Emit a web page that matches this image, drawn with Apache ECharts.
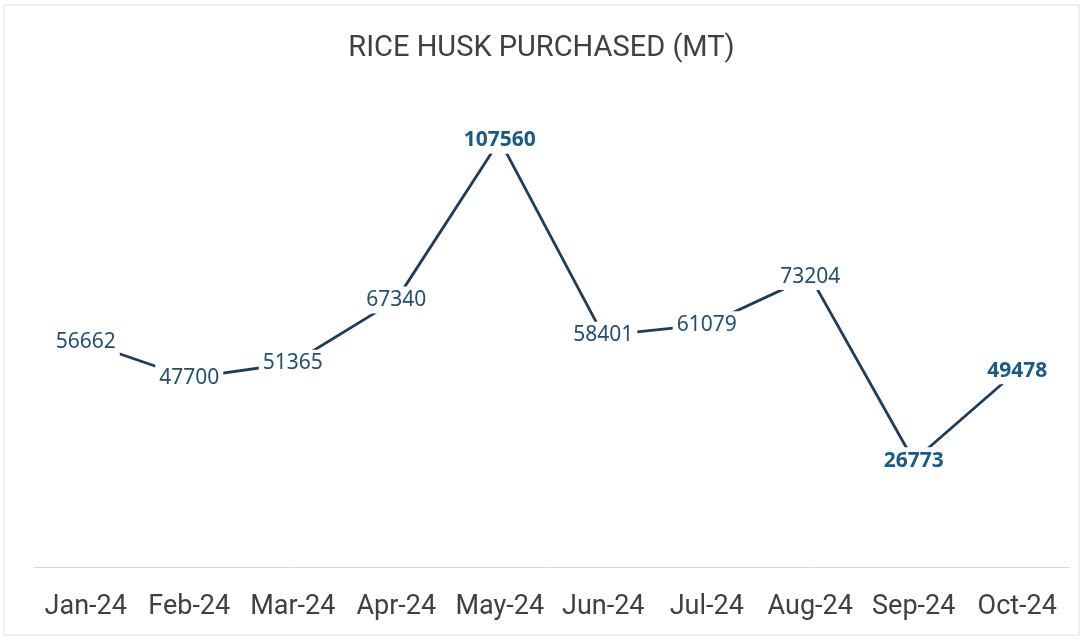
<!DOCTYPE html>
<html>
<head>
<meta charset="utf-8">
<script src="https://cdn.jsdelivr.net/npm/echarts@6/dist/echarts.min.js"></script>
<style>html,body{margin:0;padding:0;background:#fff}#c{width:1083px;height:639px}</style>
</head>
<body>
<div id="c"></div>
<script>
const categories = ['Jan-24','Feb-24','Mar-24','Apr-24','May-24','Jun-24','Jul-24','Aug-24','Sep-24','Oct-24'];
const values = [56662, 47700, 51365, 67340, 107560, 58401, 61079, 73204, 26773, 49478];
const boldLabels = [false, false, false, false, true, false, false, false, true, true];
const titleText = 'RICE HUSK PURCHASED (MT)';

const chart = echarts.init(document.getElementById('c'));
const data = values.map((v, i) => ({
  value: v,
  label: boldLabels[i]
    ? { fontWeight: 'bold', color: '#1b5a86' }
    : { fontWeight: 'normal', color: '#24506f' }
}));
chart.setOption({
  animation: false,
  backgroundColor: '#fff',
  title: {
    text: titleText,
    left: 'center',
    top: 29,
    textStyle: { fontFamily: 'Roboto, sans-serif', fontWeight: 'normal', fontSize: 29, color: '#404040' }
  },
  grid: { left: 34, right: 14, top: 91, bottom: 72 },
  xAxis: {
    type: 'category',
    data: categories,
    boundaryGap: true,
    axisLine: { lineStyle: { color: '#d9d9d9', width: 1 } },
    axisTick: { show: false },
    axisLabel: { interval: 0, fontFamily: 'Roboto, sans-serif', fontSize: 27, color: '#404040', margin: 27 }
  },
  yAxis: { type: 'value', min: 0, max: 120000, show: false, splitLine: { show: false } },
  series: [{
    type: 'line',
    data: data,
    symbol: 'circle',
    symbolSize: 1,
    showSymbol: true,
    itemStyle: { color: '#1f3d58' },
    lineStyle: { color: '#1f3d58', width: 2.8 },
    label: {
      show: true,
      position: 'inside',
      opacity: 1,
      fontFamily: 'Noto Sans, sans-serif',
      fontSize: 21,
      backgroundColor: '#fff',
      padding: [3, 4]
    },
    labelLayout: { hideOverlap: false },
    z: 2
  }],
  graphic: [{
    type: 'rect',
    shape: { x: 4, y: 5, width: 1075, height: 630 },
    style: { fill: 'none', stroke: '#e0e0e0', lineWidth: 1 },
    silent: true
  }]
});
</script>
</body>
</html>
